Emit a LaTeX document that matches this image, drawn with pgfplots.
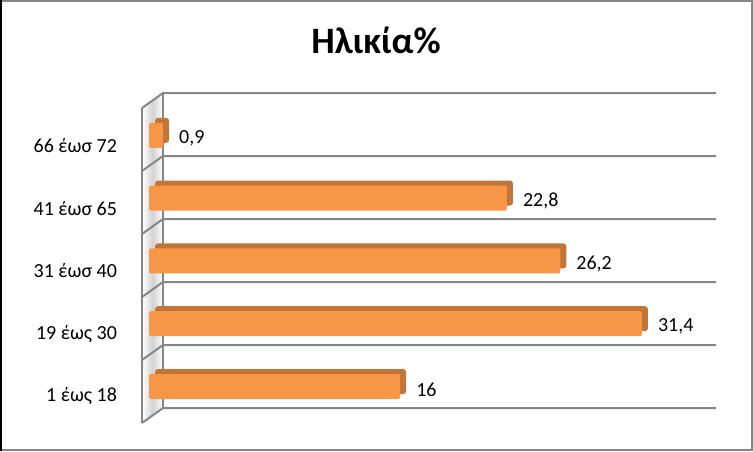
\documentclass[border=0pt]{standalone}
\usepackage{pgfplots}
\usepackage{pgfplotstable}
\pgfplotsset{compat=1.18}
\usepackage{fontspec}
\setmainfont{Carlito}

\definecolor{barfront}{HTML}{F79646}
\definecolor{barback}{HTML}{C27536}
\definecolor{gridgray}{HTML}{868686}

% age groups (y index) and share in %
\pgfplotstableread{
idx share
0 16
1 31.4
2 26.2
3 22.8
4 0.9
}\agedata

\begin{document}
\begin{tikzpicture}[x=0.5pt,y=-0.5pt]
\useasboundingbox (0,0) rectangle (753,451);
% frame
\draw[gridgray,line width=1pt] (1,1) rectangle (752,450);
\draw[black,line width=1.2pt] (1,0) -- (1,451);
% title
\node[font=\fontsize{18.6}{22}\selectfont\bfseries,anchor=base,inner sep=0pt] at (376,53) {Ηλικία\%};
% left wall and back grid
\shade[left color=white,right color=white,middle color=gray!35] (142,108) -- (142,423) -- (163,408) -- (163,93) -- cycle;
\foreach \k in {0,...,5} {
  \draw[gridgray,line width=1pt] (142,108+63*\k) -- (163,93+63*\k) -- (716,93+63*\k);
}
\draw[gridgray,line width=1pt] (142,108) -- (142,423);
\draw[gridgray,line width=1pt] (163,93) -- (163,408);

\begin{axis}[
    at={(74.5pt,-208.95pt)}, anchor=south west,
    scale only axis, width=274.75pt, height=157pt,
    xmin=0, xmax=35, ymin=-0.5, ymax=4.5,
    axis line style={draw=none},
    major tick length=0pt,
    xtick=\empty,
    ytick={0,1,2,3,4},
    yticklabels={1 έως 18,19 έως 30,31 έωσ 40,41 έωσ 65,66 έωσ 72},
    yticklabel style={font=\fontsize{10}{12}\selectfont, xshift=-12.5pt, yshift=-5pt},
    clip=false,
    /pgf/number format/assume math mode=true,
]
    % depth of the bars (top and side faces)
    \addplot[xbar, bar width=12.5pt, bar shift=2.5pt, xshift=3pt,
        fill=barback, draw=none, rounded corners=1.5pt]
        table[x=share, y=idx] {\agedata};
    % front faces with values
    \addplot[xbar, bar width=12.5pt, bar shift=0pt,
        fill=barfront, draw=none, rounded corners=1pt,
        nodes near coords={\pgfmathprintnumber[use comma]{\pgfplotspointmeta}},
        nodes near coords style={font=\fontsize{10}{12}\selectfont, anchor=west, xshift=4.5pt, yshift=-1.5pt, text=black}]
        table[x=share, y=idx] {\agedata};
\end{axis}
\end{tikzpicture}
\end{document}
